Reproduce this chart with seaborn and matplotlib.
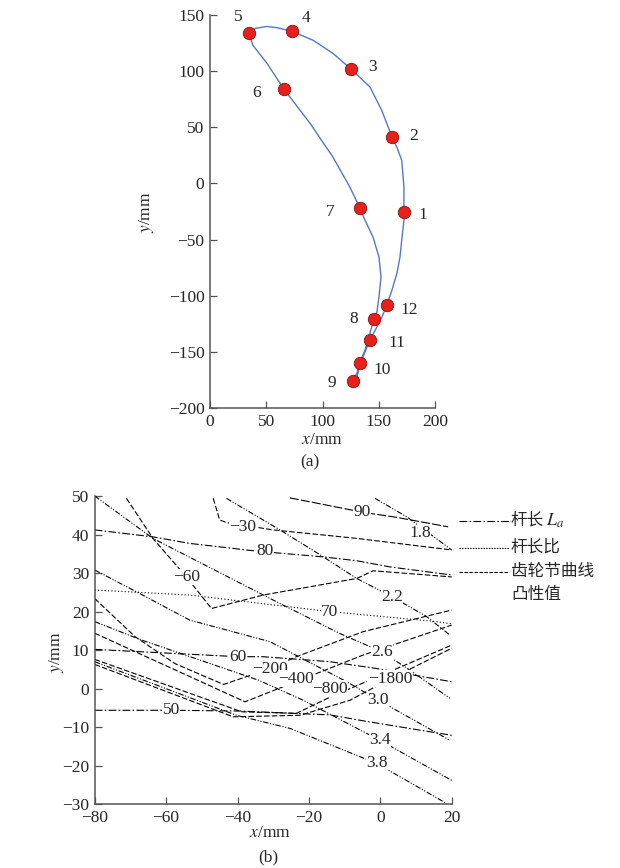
import numpy as np
import pandas as pd
import seaborn as sns
import matplotlib.pyplot as plt
from matplotlib.lines import Line2D

sns.set_style('ticks')
plt.rcParams['font.family'] = ['Liberation Serif', 'Noto Sans CJK SC']
plt.rcParams['mathtext.fontset'] = 'stix'
plt.rcParams['axes.unicode_minus'] = True

# ---- (a) closed path through the 12 positions (mm)
curve_x = [172.4, 172.4, 170.4, 166.0, 161.8, 152.6, 142.2, 125.3, 109.6, 91.8, 73.2,
           59.6, 50.7, 40.0, 34.7, 38.2, 50.7, 65.8, 88.9, 109.3, 124.4, 133.3,
           137.8, 144.9, 150.2, 152.0, 150.2, 148.4, 145.8, 142.2, 137.8, 133.3,
           130.7, 127.1, 130.7, 133.3, 137.8, 142.2, 148.4, 152.9, 157.3, 161.8,
           166.2, 168.9, 170.7, 172.4, 172.4]
curve_y = [-25.5, -3.3, 20.7, 32.5, 41.4, 65.2, 85.9, 101.9, 115.6, 127.4, 135.4,
           138.7, 139.8, 138.0, 133.6, 122.9, 106.9, 83.8, 53.6, 23.4, -3.4, -22.0,
           -32.7, -47.8, -65.5, -83.3, -101.1, -114.4, -120.6, -133.2, -148.3, -159.8,
           -168.7, -175.7, -172.2, -161.6, -150.0, -139.3, -127.7, -118.8, -108.2, -94.8,
           -79.7, -65.5, -47.7, -32.6, -25.5]

pos_x = [172.4, 161.8, 125.3, 73.2, 34.7, 65.8, 133.3, 145.8, 127.1, 133.3, 142.2, 157.3]
pos_y = [-25.5, 41.4, 101.9, 135.4, 133.6, 84.1, -22.0, -120.6, -175.7, -159.8, -139.3, -108.2]
pos_no = ['1', '2', '3', '4', '5', '6', '7', '8', '9', '10', '11', '12']

# ---- (b) contour lines
# rod length L_a
la_50_x = [-80, -58.5, -39.3, -14.1, -3.8, 20]
la_50_y = [-5.6, -5.6, -5.8, -6.8, -8.5, -12.1]
la_60_x = [-80, -39.9, -32.9, -14.1, -1.5, 20]
la_60_y = [10.2, 8.3, 8.3, 7.0, 5.3, 1.8]
la_70_x = [-80, -53.4, -14.1, 15.8, 20]
la_70_y = [25.6, 24.3, 20.0, 17.4, 16.8]
la_80_x = [-80, -63.7, -53.4, -34.7, -16.0, -6.6, 2.7, 20]
la_80_y = [41.2, 39.4, 37.7, 35.7, 34.2, 33.2, 31.6, 29.5]
la_90_x = [-25.3, -15.9, -5.1, 4.3, 19.0]
la_90_y = [49.5, 47.8, 45.8, 44.5, 42.0]

# rod length ratio
r18_x = [-1.5, 7.4, 20]
r18_y = [49.4, 44.6, 36.0]
r22_x = [-43.1, -28.1, -16.1, -6.6, 3.2, 13.0, 19.5]
r22_y = [49.4, 41.2, 34.3, 28.6, 23.9, 18.7, 13.9]
r26_x = [-80, -63.7, -30.0, -11.3, 0.4, 8.3, 19.5]
r26_y = [50.0, 39.0, 23.0, 14.3, 9.6, 4.8, -2.5]
r30_x = [-80, -67.4, -53.4, -30.9, -9.4, -0.7, 19.5]
r30_y = [30.8, 24.7, 17.8, 12.2, 1.8, -2.9, -13.4]
r34_x = [-80, -66.8, -34.1, -21.6, -0.1, 20]
r34_y = [17.4, 12.6, 2.2, -3.0, -13.4, -23.8]
r38_x = [-80, -60, -40.3, -25.3, -1.0, 18.6]
r38_y = [7.0, 0.0, -6.9, -10.3, -19.4, -29.8]

# pitch curve convexity
c30_x = [-46.8, -45.0, -43.1, -30.0, -6.6, 20]
c30_y = [49.4, 43.8, 43.1, 41.2, 39.0, 36.0]
c60_x = [-71.1, -63.7, -54.3, -47.3, -32.8, -6.6, -2.0, 20]
c60_y = [49.4, 39.0, 29.0, 20.8, 24.3, 28.6, 30.6, 29.0]
c200_x = [-80, -68.7, -57.5, -43.9, -30.9, -23.5, -4.8, 20]
c200_y = [23.4, 13.5, 6.5, 1.1, 5.2, 8.3, 14.8, 20.4]
c400_x = [-80, -37.9, -23.4, -4.9, 20]
c400_y = [14.4, -3.4, 1.9, 8.7, 16.5]
c800_x = [-80, -38.8, -23.5, -14.1, 20]
c800_y = [7.6, -6.0, -6.4, -2.2, 11.3]
c1800_x = [-80, -41.2, -22.5, -8.5, 2.1, 20]
c1800_y = [6.3, -7.3, -6.9, -3.0, 2.2, 10.5]

lab_text = ['90', '1.8', '\u221230', '80', '\u221260', '2.2', '70', '60', '\u2212200',
            '\u2212400', '\u2212800', '2.6', '\u22121800', '3.0', '3.4', '3.8', '50']
lab_x = [-5.2, 11.1, -38.5, -32.3, -54.3, 3.2, -14.1, -39.8, -30.9,
         -23.5, -14.1, 0.4, 2.7, -0.6, -0.1, -1.0, -58.5]
lab_y = [45.9, 40.4, 42.0, 35.7, 29.0, 23.8, 20.0, 8.3, 5.2,
         2.6, 0.0, 9.6, 2.6, -3.0, -13.4, -19.4, -5.6]

LA = (0, (7, 2, 1.5, 2))
DOT = (0, (1, 2))
RATIO = (0, (5, 1.5, 1, 1.5, 1, 1.5))
CONV = (0, (5, 2))

fig = plt.figure(figsize=(6.2, 8.68), dpi=100)
W, H = 620, 868

def style_axes(ax):
    sns.despine(ax=ax)
    for s in ['left', 'bottom']:
        ax.spines[s].set_color('#555555')
        ax.spines[s].set_linewidth(1.1)
    ax.tick_params(direction='in', length=5, width=0.9, color='#555555',
                   labelsize=12.5, pad=4)

# ---------------- (a)
ax1 = fig.add_axes([210 / W, 1 - 408 / H, 225 / W, 393 / H])
sns.lineplot(x=curve_x, y=curve_y, sort=False, estimator=None, color='#5677c6',
             lw=1.0, ax=ax1)
sns.scatterplot(x=pos_x, y=pos_y, s=80, color='#e8201c', edgecolor='#8a1010',
                linewidth=0.6, zorder=3, ax=ax1)
offs = [(19, 3), (22, -1), (22, -2), (14, -13), (-11, -16), (-27, 4),
        (-30, 4), (-20, 0), (-21, 2), (22, 7), (27, 3), (22, 5)]
for x, y, t, (dx, dy) in zip(pos_x, pos_y, pos_no, offs):
    ax1.annotate(t, (x, y), xytext=(dx * 0.72, -dy * 0.72), textcoords='offset points',
                 ha='center', va='center', fontsize=12.5)
ax1.set_xlim(0, 200)
ax1.set_ylim(-200, 150)
ax1.set_xticks([0, 50, 100, 150, 200])
ax1.set_yticks([-200, -150, -100, -50, 0, 50, 100, 150])
style_axes(ax1)
fig.text(147 / W, 1 - 212 / H, '$y$/mm', rotation=90, ha='center', va='center', fontsize=12.5)
fig.text(322 / W, 1 - 440 / H, '$x$/mm', ha='center', va='center', fontsize=12.5)
fig.text(310 / W, 1 - 462 / H, '(a)', ha='center', va='center', fontsize=12.5)

# ---------------- (b)
ax2 = fig.add_axes([94.7 / W, 1 - 804.3 / H, 357 / W, 308.3 / H])
lines = [
    (la_50_x, la_50_y, LA), (la_60_x, la_60_y, LA), (la_70_x, la_70_y, DOT),
    (la_80_x, la_80_y, LA), (la_90_x, la_90_y, (0, (8, 2))),
    (r18_x, r18_y, RATIO), (r22_x, r22_y, RATIO), (r26_x, r26_y, RATIO),
    (r30_x, r30_y, RATIO), (r34_x, r34_y, RATIO), (r38_x, r38_y, RATIO),
    (c30_x, c30_y, CONV), (c60_x, c60_y, CONV), (c200_x, c200_y, CONV),
    (c400_x, c400_y, CONV), (c800_x, c800_y, CONV), (c1800_x, c1800_y, CONV),
]
for xs, ys, ls in lines:
    sns.lineplot(x=xs, y=ys, sort=False, estimator=None, color='black', lw=0.8, ax=ax2)
    ax2.lines[-1].set_linestyle(ls)

for t, x, y in zip(lab_text, lab_x, lab_y):
    ax2.text(x, y, t, ha='center', va='center', fontsize=12.5, zorder=4,
             bbox=dict(boxstyle='square,pad=0.02', fc='white', ec='none'))

ax2.set_xlim(-80, 20)
ax2.set_ylim(-30, 50)
ax2.set_xticks([-80, -60, -40, -20, 0, 20])
ax2.set_yticks([-30, -20, -10, 0, 10, 20, 30, 40, 50])
style_axes(ax2)
fig.text(57 / W, 1 - 652 / H, '$y$/mm', rotation=90, ha='center', va='center', fontsize=12.5)
fig.text(270 / W, 1 - 833 / H, '$x$/mm', ha='center', va='center', fontsize=12.5)
fig.text(268 / W, 1 - 857 / H, '(b)', ha='center', va='center', fontsize=12.5)

# legend drawn at the right of panel (b)
leg = [(521, '杆长', LA), (548, '杆长比', (0, (1.2, 1.2))), (572, '齿轮节曲线', (0, (3, 1.5)))]
leg_text = []
for py, txt, ls in leg:
    fig.add_artist(Line2D([459 / W, 509 / W], [1 - py / H, 1 - py / H], color='black',
                          lw=0.8, linestyle=ls, transform=fig.transFigure))
    leg_text.append(fig.text(511 / W, 1 - py / H, txt, ha='left', va='center', fontsize=12))
fig.text(511 / W, 1 - 595 / H, '凸性值', ha='left', va='center', fontsize=12)
fig.add_artist(plt.Annotation('$L_a$', xy=(1, 0.5), xycoords=leg_text[0], xytext=(1, 0),
                              textcoords='offset points', ha='left', va='center',
                              fontsize=13, annotation_clip=False))

fig.savefig('out.png', dpi=100)
